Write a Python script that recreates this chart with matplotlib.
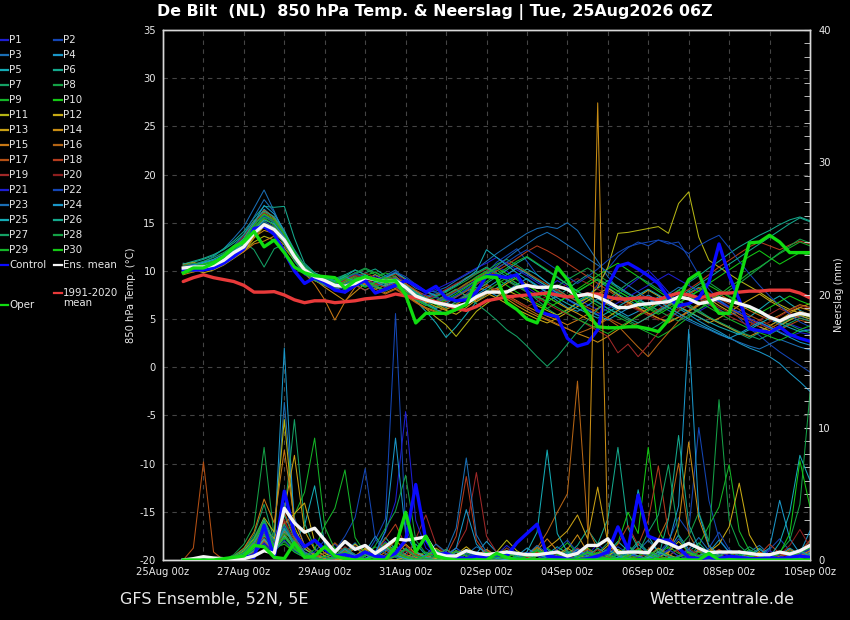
import numpy as np
import matplotlib
matplotlib.use("Agg")
import matplotlib.pyplot as plt
from matplotlib.lines import Line2D
from matplotlib.ticker import MultipleLocator

plt.rcParams['font.family'] = ['DejaVu Sans']
plt.rcParams['axes.unicode_minus'] = False

# ---------------- data ----------------
# time steps: 6-hourly from 25Aug 12z (day 0.5) to 10Sep 00z (day 16)
n_steps = 63
x_tick_labels = ["25Aug 00z", "27Aug 00z", "29Aug 00z", "31Aug 00z", "02Sep 00z",
                 "04Sep 00z", "06Sep 00z", "08Sep 00z", "10Sep 00z"]

member_names = ["P%d" % k for k in range(1, 31)]
member_colors = ["#1e1ed2", "#1446b4", "#1a6eb4", "#1a96c8", "#14aab4", "#14a88c",
                 "#14a064", "#14a046", "#14b428", "#14c814", "#b4b414", "#c8aa14",
                 "#c8a014", "#c88c14", "#c87814", "#b46414", "#b45014", "#b43c1e",
                 "#a02828", "#8c1e1e",
                 "#1e1ed2", "#1446b4", "#1a6eb4", "#1a96c8", "#14aab4", "#14a88c",
                 "#14a064", "#14a046", "#14b428", "#14c814"]

# 850 hPa temperature (°C) per member
t01 = [10.5,10.2,10.6,10.9,11.4,12.2,13.0,14.6,15.3,14.8,13.0,11.0,9.6,9.0,8.6,
       8.2,8.9,9.5,9.1,8.6,9.3,9.8,8.7,7.9,7.5,7.2,7.0,7.4,8.1,8.8,
       9.6,10.4,10.0,9.1,8.3,7.6,8.2,9.0,8.4,7.1,6.5,6.0,6.8,7.5,8.4,
       9.2,10.1,9.0,7.8,6.9,6.2,5.8,6.4,7.0,6.3,5.5,4.9,4.2,3.6,3.9,4.5,4.1,3.8]
t02 = [10.0,10.3,10.1,10.4,11.0,11.6,12.4,14.0,15.6,15.0,13.6,11.8,10.0,9.2,8.8,
       8.5,8.0,8.6,9.4,9.0,8.2,8.8,7.6,7.0,7.3,7.8,7.4,6.9,7.6,8.5,
       9.8,10.9,11.6,12.3,11.0,9.6,8.8,7.9,7.0,6.4,7.2,8.6,10.2,11.5,12.4,
       13.0,12.6,13.2,12.8,13.0,11.4,9.6,8.1,7.0,6.2,5.1,4.0,3.3,2.4,1.6,0.9,0.2,-0.5]
t03 = [10.8,10.6,10.9,11.5,12.3,13.4,14.6,16.5,18.4,16.2,13.8,11.4,9.8,9.1,8.9,
       8.6,9.2,9.8,9.4,8.9,9.5,10.1,9.0,8.2,7.8,7.9,8.3,9.0,9.6,10.2,
       11.0,11.8,12.5,13.2,13.9,14.4,14.6,14.4,15.0,14.2,12.6,11.0,9.4,8.2,7.6,
       7.0,6.5,6.9,7.6,8.3,7.9,7.2,6.6,6.0,5.4,5.8,6.3,5.7,5.0,4.4,4.9,5.3,5.0]
t04 = [10.2,10.5,10.3,10.7,11.2,12.0,13.1,14.9,16.4,15.5,13.9,11.6,9.9,9.3,8.7,
       8.4,9.0,8.6,8.0,8.5,9.1,8.4,7.5,6.9,6.5,6.1,6.6,7.3,7.9,8.3,
       8.0,7.4,7.9,8.6,9.2,8.5,7.7,6.9,6.2,5.8,6.4,7.1,6.5,5.9,5.3,
       5.8,6.6,7.3,6.8,6.1,5.5,4.8,4.2,3.7,3.1,2.5,2.0,1.6,1.1,0.4,-0.6,-1.5,-2.5]
t05 = [9.9,10.4,10.6,10.8,11.3,11.9,12.7,14.2,15.9,15.1,13.5,11.9,10.3,9.6,9.1,
       8.7,9.4,10.1,9.6,9.0,8.6,9.2,8.1,6.9,5.8,4.6,3.1,4.2,5.5,6.8,
       7.6,8.2,8.9,9.5,10.2,9.6,8.8,8.1,7.4,6.9,7.5,8.2,9.0,8.4,7.7,
       7.1,6.5,5.9,6.4,7.0,7.7,8.3,7.6,6.9,6.2,5.7,5.2,6.0,6.8,7.4,6.6,5.9,5.4]
t06 = [10.4,10.9,11.2,11.6,12.3,13.1,14.1,15.5,16.7,16.6,16.7,13.4,10.8,9.8,9.3,
       9.0,8.7,9.2,9.8,10.2,9.5,9.0,8.4,7.7,7.2,7.6,8.0,8.6,9.3,9.8,
       10.4,9.8,9.1,8.5,7.9,7.3,6.8,7.4,8.1,8.9,9.6,9.0,8.3,7.6,7.0,
       6.4,5.9,6.5,7.2,8.0,8.8,9.5,10.3,11.0,11.8,12.5,13.1,13.7,14.2,14.8,15.3,15.6,15.2]
t07 = [10.1,10.7,11.0,11.4,11.9,12.6,13.0,12.2,10.4,12.3,12.8,11.0,9.7,9.3,8.9,
       9.2,9.6,9.0,8.5,8.9,9.4,8.8,8.0,7.1,6.6,6.2,6.8,7.4,8.0,8.9,
       9.5,10.1,9.4,8.7,7.9,7.0,6.1,5.4,5.9,6.7,7.4,6.8,6.1,5.5,4.9,
       4.3,3.8,4.4,5.1,5.8,6.5,5.9,5.2,4.6,4.1,3.5,3.0,3.6,4.3,4.9,4.4,3.9,3.6]
t08 = [10.6,10.3,10.8,11.2,11.8,12.4,13.3,14.8,15.8,15.0,13.4,11.7,10.2,9.5,9.0,
       8.6,9.1,9.7,10.2,9.6,9.1,9.5,8.3,7.4,7.0,6.7,7.1,7.9,8.6,9.4,
       10.0,10.7,11.2,10.6,9.9,9.1,8.4,7.8,7.2,7.8,8.5,9.2,8.6,7.9,7.3,
       6.8,6.2,5.7,6.3,7.0,7.6,8.2,8.8,8.1,7.4,6.8,6.2,5.7,5.1,4.6,5.0,5.5,5.2]
t09 = [9.8,10.1,10.4,10.5,11.0,11.8,12.6,14.1,15.2,14.4,13.0,11.3,9.9,9.4,9.1,
       8.9,9.5,9.1,8.7,9.3,9.8,9.4,8.6,7.8,7.1,6.5,6.0,6.6,7.3,8.2,
       8.9,9.6,10.3,11.0,11.5,10.8,10.1,9.4,8.6,7.9,7.1,6.4,5.8,5.2,4.7,
       4.1,3.6,3.1,3.7,4.4,5.2,6.0,6.8,7.5,8.3,9.0,9.8,10.4,11.1,11.8,12.4,13.0,12.6]
t10 = [10.3,10.6,10.2,10.6,11.2,12.0,12.9,14.4,15.1,14.5,13.1,11.5,10.2,9.7,9.2,
       8.8,8.4,8.9,9.5,9.9,9.3,8.7,8.1,7.5,7.1,6.8,7.3,8.0,8.7,9.3,
       9.9,9.2,8.5,7.8,7.2,6.6,6.1,6.7,7.4,8.1,8.8,9.5,10.2,10.8,10.1,
       9.4,8.6,7.9,7.2,6.6,7.3,8.0,8.7,9.4,10.1,10.8,11.5,12.1,11.4,10.7,11.3,11.9,11.6]
t11 = [10.7,10.9,10.5,10.8,11.3,11.7,12.1,13.0,13.6,13.2,12.4,11.1,9.8,9.2,8.7,
       8.3,8.8,9.3,8.9,8.4,8.0,8.5,7.7,6.8,6.1,5.2,4.4,3.2,4.5,5.8,
       6.6,7.3,8.0,7.5,7.0,6.4,5.9,5.4,6.0,6.7,7.2,8.3,10.4,13.9,14.0,
       14.2,14.4,14.6,13.9,17.0,18.2,13.5,11.1,10.4,9.7,9.0,8.4,7.8,7.1,6.5,6.0,5.6,5.2]
t12 = [10.0,10.2,9.8,10.1,10.6,11.3,12.0,13.4,14.6,14.0,12.9,11.2,9.9,9.0,8.5,
       8.1,8.6,9.0,8.6,8.1,8.5,9.0,8.2,7.4,6.8,6.3,5.9,5.5,6.2,7.0,
       7.7,7.2,6.6,6.0,5.5,5.0,4.6,5.1,5.7,6.3,6.9,7.6,8.2,7.5,6.8,
       6.2,5.6,5.1,4.7,5.2,5.8,6.5,7.1,6.4,5.8,5.2,4.7,4.2,3.8,4.3,4.9,5.4,5.0]
t13 = [10.4,10.0,10.3,10.7,11.1,11.6,12.3,13.7,14.9,14.6,13.6,11.9,10.4,9.6,8.9,
       8.3,7.7,8.4,9.1,9.6,9.0,8.5,7.9,7.2,6.7,6.9,7.5,8.1,7.4,6.8,
       7.4,8.0,8.7,9.3,8.6,7.9,7.3,6.7,6.1,5.6,5.0,4.5,5.2,5.9,6.6,
       7.3,8.0,7.4,6.9,6.3,5.8,5.2,4.6,5.1,5.7,6.4,7.0,7.6,6.9,6.3,5.8,6.2,6.6]
t14 = [10.1,9.9,10.2,10.5,11.0,11.5,12.2,13.5,14.2,13.9,13.0,11.4,10.0,9.1,8.3,
       7.6,6.9,7.8,8.7,9.2,8.7,9.3,8.6,7.9,7.2,6.6,6.0,6.5,7.2,7.8,
       8.4,7.8,7.1,6.4,5.8,5.3,4.9,4.4,4.0,3.5,3.1,2.6,3.2,3.9,4.6,
       5.4,6.1,6.8,7.4,6.9,6.3,5.7,5.1,4.6,4.1,3.6,3.2,3.7,4.3,4.9,5.6,6.2,5.9]
t15 = [9.6,9.9,10.1,10.4,10.9,11.4,12.0,12.8,13.1,13.6,12.7,11.2,9.8,8.6,7.0,
       4.9,6.8,8.3,9.0,8.4,7.7,8.2,7.5,6.8,6.2,5.8,5.4,5.9,6.5,7.1,
       7.6,8.2,7.5,6.9,6.3,5.8,5.3,4.9,4.4,4.9,5.5,6.1,6.7,7.3,6.7,
       6.1,5.6,5.1,4.6,5.2,5.8,6.4,7.0,7.6,7.0,6.5,5.9,5.4,4.9,5.4,6.0,6.5,6.2]
t16 = [10.2,10.5,10.0,10.4,11.0,11.9,13.0,14.7,16.1,15.4,13.7,11.6,9.9,9.0,8.5,
       8.0,8.5,9.1,8.6,8.1,7.6,8.1,7.4,6.7,6.1,5.7,6.2,6.8,7.5,8.1,
       8.6,8.0,7.3,6.7,6.1,5.5,5.0,4.5,4.0,3.5,3.9,4.4,5.0,4.3,3.2,
       2.1,1.1,2.4,3.6,4.8,5.9,6.6,7.3,6.7,6.1,5.5,5.0,4.5,4.0,4.6,5.2,5.8,5.5]
t17 = [10.6,10.8,10.4,10.9,11.5,12.3,13.4,15.0,16.3,15.6,14.0,12.0,10.4,9.5,9.0,
       8.6,9.0,9.5,9.0,8.4,8.9,9.4,8.7,8.0,7.4,6.9,7.4,8.0,8.7,9.2,
       9.8,10.3,10.9,10.4,9.8,9.2,8.6,8.0,7.4,6.8,6.2,5.7,5.1,4.6,4.1,
       4.6,5.2,5.8,6.4,7.0,7.6,8.2,7.7,7.1,6.6,6.0,5.4,4.9,4.4,3.9,4.4,4.9,4.6]
t18 = [10.3,10.1,10.5,10.9,11.3,12.0,12.9,14.3,15.4,14.8,13.4,11.7,10.1,9.3,8.8,
       8.4,8.9,8.5,8.0,8.6,9.2,9.7,9.1,8.4,7.8,7.3,6.8,7.3,7.9,8.6,
       9.3,10.0,10.6,11.3,12.0,12.6,12.1,11.5,10.8,10.1,9.4,8.7,8.0,7.3,6.6,
       6.0,5.4,6.0,6.7,7.4,8.1,8.8,9.6,10.4,11.1,11.8,12.5,13.0,12.6,12.2,12.7,13.1,12.8]
t19 = [10.0,10.4,10.7,11.0,11.6,12.5,13.6,15.2,16.0,15.2,13.7,11.8,10.2,9.4,8.9,
       8.5,9.1,9.6,9.2,8.7,8.3,8.8,8.1,7.5,7.0,7.5,8.1,8.7,9.2,9.7,
       10.2,9.6,9.0,8.4,7.8,7.2,6.6,6.0,5.5,5.0,4.4,3.8,3.2,1.5,2.4,
       1.1,2.3,3.6,4.8,5.9,6.5,7.1,6.5,5.9,5.3,4.8,4.3,4.9,5.5,6.1,5.6,5.1,4.8]
t20 = [10.5,10.6,10.3,10.6,11.1,11.7,12.5,13.8,14.7,14.1,12.9,11.2,9.8,9.1,8.6,
       8.2,8.7,9.3,9.8,9.3,8.8,8.3,7.6,7.0,6.5,6.9,7.4,7.9,8.5,9.0,
       8.5,8.0,7.4,6.8,6.3,6.8,7.4,8.0,8.6,9.2,8.7,8.1,7.5,6.9,6.4,
       5.9,5.4,4.9,5.5,6.1,6.7,7.3,6.8,6.2,5.7,5.2,4.7,4.2,4.7,5.3,5.9,6.4,6.1]
t21 = [9.9,10.2,10.4,10.6,11.2,12.1,13.2,14.9,15.7,15.1,13.5,11.5,9.9,9.2,8.7,
       8.2,7.8,8.4,9.0,9.5,9.0,8.5,7.8,7.2,7.6,8.1,8.6,9.1,9.7,10.3,
       10.8,11.4,10.8,10.1,9.5,8.8,8.2,7.6,7.0,6.5,6.0,5.5,6.1,6.7,7.3,
       7.9,8.5,9.1,9.7,9.1,8.5,7.9,7.3,6.8,6.2,5.7,5.1,4.6,4.1,3.7,3.2,3.6,3.4]
t22 = [10.4,10.7,10.5,10.8,11.3,12.0,12.8,14.3,15.1,14.6,13.2,11.6,10.1,9.4,8.9,
       8.6,9.2,9.7,9.3,8.9,9.4,9.9,9.4,8.6,7.9,7.3,6.9,7.4,8.1,8.8,
       9.5,10.2,10.9,11.6,12.2,11.5,10.8,10.1,9.4,8.7,9.4,10.2,11.1,11.9,12.5,
       12.8,13.0,13.2,13.0,12.5,11.8,12.6,13.2,13.7,12.4,11.0,9.7,8.5,7.4,6.4,5.5,4.7,4.2]
t23 = [10.2,10.0,10.3,10.9,11.6,12.6,13.8,15.6,17.4,16.1,14.0,11.8,10.0,9.1,8.5,
       8.0,8.6,9.2,8.8,8.3,8.8,9.3,8.5,7.7,7.1,6.7,7.2,7.8,8.4,9.1,
       9.7,10.5,11.3,12.1,12.8,13.5,14.0,13.4,12.7,12.0,11.3,10.6,9.9,9.2,8.5,
       7.8,7.1,6.5,5.9,5.3,4.8,4.3,3.9,3.4,3.0,2.6,2.2,1.9,2.4,2.9,2.5,2.1,1.8]
t24 = [10.3,10.6,10.9,11.2,11.7,12.4,13.4,15.0,16.8,15.9,14.2,12.0,10.3,9.5,9.1,
       8.7,8.3,8.8,9.4,8.9,8.4,8.9,8.1,7.3,6.6,6.0,5.5,6.1,6.8,7.5,
       8.2,8.9,9.6,10.3,9.7,9.0,8.4,7.7,7.1,6.5,5.9,5.4,4.9,5.5,6.1,
       6.8,7.5,6.9,6.2,5.6,5.0,4.5,4.0,3.5,3.0,3.5,4.1,4.7,4.2,3.6,3.1,2.6,2.3]
t25 = [10.1,10.5,10.8,11.1,11.5,12.1,12.9,14.2,15.3,14.9,13.5,11.8,10.4,9.6,9.2,
       8.9,9.4,8.9,8.4,8.8,9.3,9.8,9.2,8.5,7.9,7.4,7.9,8.5,9.2,10.0,
       12.2,11.4,10.6,9.8,9.1,8.4,7.8,7.2,6.6,6.1,5.6,5.1,5.7,6.3,6.9,
       7.5,8.1,7.5,6.9,6.3,5.7,5.2,4.7,4.2,3.8,3.4,3.9,4.5,5.1,4.6,4.1,3.7,3.9]
t26 = [10.7,11.0,11.3,11.7,12.2,12.9,13.8,15.2,16.2,15.6,14.1,12.2,10.6,9.8,9.3,
       9.0,9.6,10.1,9.6,9.1,8.6,9.1,8.5,7.8,7.2,6.7,6.2,6.8,7.4,8.0,
       8.7,9.4,10.1,10.8,11.4,10.7,10.0,9.3,8.6,7.9,7.3,6.7,6.1,5.6,5.1,
       4.6,5.2,5.8,6.5,7.2,7.9,8.6,9.3,10.0,10.7,11.4,12.1,12.8,13.5,14.2,14.9,15.5,15.1]
t27 = [10.0,10.3,10.7,11.0,11.4,12.0,12.7,14.0,14.9,14.2,12.8,11.1,9.7,9.0,8.6,
       8.2,8.7,9.2,8.8,8.3,7.9,8.4,7.7,7.0,6.4,6.9,7.5,8.1,7.4,6.6,
       5.8,4.9,3.9,3.2,2.2,1.1,0.1,1.1,2.4,3.7,4.9,6.0,7.0,7.9,8.7,
       9.4,8.8,8.1,7.5,6.9,6.3,5.7,5.2,4.7,4.2,3.7,3.3,2.9,3.4,4.0,4.6,5.1,4.8]
t28 = [10.5,10.8,10.6,10.9,11.4,12.2,13.1,14.6,15.6,15.1,13.8,12.0,10.5,9.7,9.2,
       8.8,9.3,9.8,10.3,9.8,9.3,8.8,8.1,7.4,6.9,7.3,7.8,8.4,9.0,9.7,
       10.3,9.7,9.0,8.4,7.8,7.2,7.8,8.4,9.1,9.7,10.3,9.6,8.9,8.2,7.6,
       7.0,6.4,5.9,5.3,4.8,5.4,6.0,6.6,7.3,8.0,8.7,9.5,10.3,11.1,11.9,12.6,13.3,12.9]
t29 = [9.7,10.0,10.3,10.6,11.1,11.8,12.8,14.4,15.5,14.7,13.2,11.4,9.9,9.2,8.8,
       8.4,8.9,9.4,9.0,8.5,8.0,8.5,7.8,7.1,6.5,5.9,5.4,5.9,6.5,7.2,
       7.9,8.6,9.3,8.7,8.0,7.4,6.8,6.2,5.6,5.0,4.5,4.0,3.5,4.1,4.7,
       5.3,5.9,6.6,7.3,8.0,7.4,6.8,6.2,5.6,5.0,4.5,4.0,3.6,3.2,2.8,3.3,3.9,4.3]
t30 = [10.2,10.4,10.7,11.0,11.5,12.3,13.3,14.8,15.9,15.3,13.8,11.9,10.3,9.5,9.0,
       8.7,9.2,8.8,8.3,8.8,9.3,8.9,8.2,7.6,7.0,6.5,7.0,7.6,8.3,9.0,
       9.7,10.3,9.7,9.1,8.5,7.9,7.3,6.7,7.3,7.9,8.5,9.1,8.5,7.9,7.3,
       6.7,6.1,5.5,6.1,6.7,7.3,7.9,8.5,7.9,7.3,6.7,6.1,5.6,6.2,6.8,7.4,6.9,6.5]

control_temp = [10.1,10.1,10.1,10.3,10.8,11.5,12.3,14.4,14.6,13.8,12.0,10.0,8.7,9.3,8.8,
                8.0,7.8,8.5,9.0,7.7,8.1,8.5,9.0,8.5,7.8,8.4,7.2,6.9,7.0,7.8,
                9.5,9.5,9.3,9.6,8.0,5.9,5.5,5.25,3.0,2.2,2.5,3.9,8.5,10.5,10.8,
                10.2,9.5,8.7,7.2,6.4,6.6,7.2,8.8,12.8,9.5,7.0,4.0,3.8,3.6,4.2,3.4,3.0,2.7]
oper_temp = [9.8,10.3,10.3,10.8,11.5,12.5,13.0,14.1,12.5,13.2,11.9,10.4,9.8,9.5,9.4,
             9.3,8.2,9.0,9.4,9.1,8.9,9.0,7.5,4.6,5.6,5.6,5.6,6.0,6.5,9.0,
             9.4,9.3,6.7,6.0,5.0,4.6,7.0,10.4,9.1,7.0,5.6,4.2,4.1,4.1,4.2,
             4.2,4.0,3.7,4.9,7.0,9.1,9.8,7.0,5.6,5.6,9.0,12.9,13.0,13.7,13.0,11.9,11.9,11.9]
mean_temp = [10.3,10.4,10.4,10.6,11.1,11.9,12.5,13.9,14.8,14.3,13.2,11.5,10.1,9.4,9.0,
             8.5,8.4,8.7,9.3,9.1,8.9,9.0,8.3,7.4,7.0,6.7,6.5,6.3,6.6,7.3,
             7.8,7.8,7.8,8.3,8.5,8.3,8.3,8.4,8.1,7.4,7.6,7.3,6.8,6.2,6.2,
             6.5,6.6,6.7,6.8,7.3,7.1,6.6,6.8,7.2,6.9,6.6,6.3,5.8,5.2,4.8,5.3,5.6,5.4]
clim_temp = [8.9,9.3,9.6,9.3,9.1,8.9,8.5,7.8,7.8,7.85,7.5,7.0,6.7,6.9,6.9,
             6.7,6.8,6.9,7.1,7.2,7.3,7.6,7.4,7.2,7.0,6.8,6.5,6.1,5.9,6.3,
             6.9,7.1,7.3,7.4,7.5,7.6,7.7,7.5,7.3,7.4,7.6,7.6,7.3,7.1,7.1,
             7.2,7.2,7.0,7.4,7.7,7.5,7.2,7.4,7.7,7.7,7.8,7.9,7.9,8.0,8.0,8.0,7.7,7.2]

# precipitation (mm) per member
r01 = [0,0,0,0,0,0,0.2,0.5,1.2,0.4,2.5,1.1,0.6,0.3,0,
       0.2,0.8,0.3,0,0.5,1.4,0.6,0.2,0,0.3,0,0,0.2,0.6,0.3,
       0,0.4,1.1,0.5,0.2,0,0.3,0.6,0.2,0,0.4,1.2,0.5,0.3,0,
       0.2,0.6,0.3,0,0,0.4,0.8,0.3,0,0.2,0,0,0.3,0.5,0.2,0,0.3,0.8]
r02 = [0,0,0,0,0,0.1,0.3,0.6,1.4,0.5,1.8,0.9,0.4,0.2,0.5,
       1.2,0.4,0.1,0.3,1.5,3.1,18.6,2.4,0.6,0.2,0,0.4,0.9,0.3,0.1,
       0,0.2,0.6,0.3,0.1,0,0.2,0.4,0.7,0.2,0,0.3,0.9,0.4,0.6,
       0.3,0.1,0.5,1.4,3.2,2.1,10.0,4.5,1.6,0.6,0.2,0,0.3,0.8,1.6,0.7,0.3,0.5]
r03 = [0,0,0,0,0,0,0.4,1.0,2.3,1.5,11.9,3.2,1.1,0.5,0.2,
       0,0.6,1.3,0.4,0.2,0.8,0.3,0.1,0,0.2,0.5,0.2,0,0.4,1.0,
       0.6,0.2,0,0,0.3,0.1,0,0,0.5,0.9,0.3,0.1,0,0.4,0.2,
       0.7,1.5,0.6,0.2,0,0.3,0.8,0.4,0.1,0,0.2,0.6,1.1,0.4,0.2,0,0.3,0.6]
r04 = [0,0,0,0,0,0.2,0.6,1.3,3.0,1.2,16.0,2.2,0.8,0.4,0.2,
       0.5,0.2,0,0.6,1.8,0.7,1.1,0.4,0.2,0,0.3,0.8,0.4,0.1,0.5,
       1.4,0.6,0.2,0,0.1,0.4,0.8,0.3,0,0.2,0.5,0.3,0.1,0,0.4,
       1.2,0.5,0.2,0.7,1.9,0.8,0.3,0.6,1.5,0.6,0.2,0,0.4,0.9,4.5,1.6,0.5,2.2]
r05 = [0,0,0,0,0,0,0.1,0.4,1.6,0.7,2.1,1.4,2.6,5.6,1.2,
       0.4,0.1,0,0.3,0.7,0.2,0,0.5,1.2,0.4,0.1,0,0.3,0.7,0.2,
       0,0.2,0.5,0.2,0,0.1,0.4,1.0,0.5,0.2,0,0.3,0.6,1.4,0.7,
       5.3,1.8,0.6,0.2,0,0.3,0.7,0.3,0,0.2,0.5,0.2,0,0.1,0.4,0.9,0.4,0.2]
r06 = [0,0,0,0,0,0,0.2,0.8,2.0,1.1,3.4,1.6,0.5,0.2,0,
       0.3,0.9,0.4,0.1,0.6,1.7,0.8,0.3,0.1,0,0.2,0.5,0.2,0,0.3,
       0.8,0.3,0.1,0,0.2,0.6,0.3,0.1,0.4,1.1,2.3,1.2,3.1,8.5,2.4,
       0.9,0.3,0.1,0,0.2,0.6,1.3,0.5,0.2,0,0.1,0.4,0.9,0.3,0,0.2,0.5,1.0]
r07 = [0,0,0,0,0,0.3,0.8,1.9,4.2,1.5,3.3,10.6,2.8,0.9,0.3,
       0.1,0.5,1.2,0.6,0.2,0,0.3,0.9,0.4,0.1,0,0.2,0.7,0.3,0,
       0.1,0.4,0.9,0.4,0.1,0,0.3,0.6,0.2,0,0.2,0.5,1.3,0.6,0.2,
       0,0.3,0.8,0.4,0.1,0,0.2,0.5,0.2,0,0.4,1.0,0.5,0.2,0,0.3,0.7,1.4]
r08 = [0,0,0,0,0,0.4,1.2,2.6,8.5,1.7,2.4,1.0,0.4,0.1,0,
       0.2,0.6,0.3,0,0.4,1.1,0.5,0.2,0,0.3,0.8,0.3,0.1,0,0.2,
       0.5,0.2,0,0.1,0.4,0.9,0.4,0.1,0,0.2,0.6,0.3,0.1,0.4,1.0,
       0.5,0.2,0,0.3,0.9,1.8,3.6,1.4,12.1,3.0,1.1,0.4,0.1,0,0.3,0.7,0.3,0.5]
r09 = [0,0,0,0,0,0,0.3,0.9,2.2,0.8,1.6,3.4,5.1,9.2,2.5,
       0.8,0.3,0.1,0.4,1.0,0.5,0.2,0,0.3,0.6,0.2,0,0.2,0.5,0.2,
       0,0.3,0.7,0.3,0.1,0,0.2,0.6,1.3,0.5,0.2,0,0.3,0.8,0.3,
       0.1,0,0.4,1.0,0.5,0.2,1.1,2.6,4.0,7.2,2.2,0.7,0.2,0,0.3,0.6,0.3,0.2]
r10 = [0,0,0,0,0,0.1,0.5,1.5,2.9,0.9,1.2,0.6,0.2,0,0.3,
       0.9,0.4,0.1,0,0.5,1.3,0.6,0.2,0,0.3,0.7,0.3,0.1,0,0.2,
       0.6,0.3,0.1,0,0.4,0.8,0.3,0.1,0,0.3,0.9,0.4,0.2,1.3,3.6,
       2.0,8.5,2.3,0.8,0.3,0.1,0,0.3,0.7,0.3,0.1,0,0.2,0.5,0.2,0,0.4,0.9]
r11 = [0,0,0,0,0,0.2,0.7,1.6,3.2,2.1,10.6,2.5,0.9,0.3,0.1,
       0,0.4,1.2,0.5,0.2,0,0.3,0.8,0.3,0.1,0,0.2,0.6,0.3,0,
       0.2,0.6,1.5,0.7,0.3,0.1,0,0.4,0.9,0.4,0.1,0,0.3,0.8,0.4,
       0.2,0,0.2,0.6,1.4,0.6,0.2,0,0.3,0.7,0.3,0.1,0,0.2,0.6,0.3,0.1,0.3]
r12 = [0,0,0,0,0,0,0.3,0.8,1.8,1.2,2.7,3.5,4.3,1.4,0.5,
       0.2,0,0.3,0.9,0.4,0.1,0,0.2,0.6,0.3,0.1,0,0.4,1.0,0.4,
       0.1,0,0.2,0.5,0.2,0,0.3,0.7,0.3,0.1,0,0.4,1.1,0.5,0.2,
       0,0.3,0.8,0.4,0.1,0,0.2,0.6,1.2,2.5,5.8,1.9,0.6,0.2,0,0.3,0.7,0.3]
r13 = [0,0,0,0,0,0.2,0.6,1.3,2.5,1.6,3.8,7.9,2.2,0.8,0.3,
       0.1,0,0.3,0.8,0.3,0.1,0.4,1.2,0.5,0.2,0,0.3,0.7,0.3,0.1,
       0,0.2,0.6,0.2,0,0.3,0.9,1.5,2.2,3.4,1.6,5.5,1.3,0.5,0.2,
       0,0.2,0.6,0.3,0.1,0,0.3,0.8,0.3,0.1,0,0.2,0.5,0.2,0,0.3,0.6,0.2]
r14 = [0,0,0,0,0,0,0.2,0.7,1.5,0.6,1.9,0.8,0.3,0.1,0,
       0.3,0.8,0.3,0.1,0,0.2,0.6,0.2,0,0.3,0.9,0.4,0.1,0,0.2,
       0.5,0.2,0,0.1,0.4,1.0,0.4,0.2,0.8,1.9,0.6,34.5,1.2,0.4,0.1,
       0,0.3,0.9,0.5,2.6,8.9,3.1,1.0,0.3,0.1,0,0.2,0.6,0.3,0.1,0,0.3,0.7]
r15 = [0,0,0,0,0,0.3,0.9,2.1,4.6,2.8,8.3,3.0,1.1,0.4,0.1,
       0,0.3,0.9,0.4,0.1,0.6,1.5,0.7,0.2,0,0.2,0.5,0.2,0,0.3,
       0.8,0.3,0.1,0,0.2,0.7,1.6,0.7,0.2,0,0.3,0.8,0.3,0.1,0,
       0.2,0.6,0.3,0.1,0,0.3,0.7,0.3,0.1,0,0.2,0.5,0.2,0,0.3,0.8,0.4,0.2]
r16 = [0,0,0,0,0,0,0.2,0.6,1.4,0.5,2.2,1.3,0.5,0.2,0,
       0.2,0.7,0.3,0.1,0,0.4,1.0,0.4,0.1,0,0.3,0.8,0.3,0.1,0,
       0.2,0.5,0.2,0,0.3,0.9,2.1,3.6,5.0,13.5,2.4,0.8,0.3,0.1,0,
       0.3,0.8,1.6,3.2,7.3,2.0,0.6,0.2,0,0.3,0.7,0.3,0.1,0,0.2,0.5,0.2,0.4]
r17 = [0,0.9,7.4,0.6,0,0,0.4,1.1,2.3,1.0,3.6,1.7,0.6,0.2,0.5,
       1.3,0.6,0.2,0,0.3,0.9,0.4,0.1,0,0.2,0.6,0.3,0.1,0,0.3,
       0.7,0.3,0.1,0,0.2,0.6,0.3,0.1,0,0.3,0.8,0.4,0.2,0,0.3,
       0.9,0.4,0.2,0,0.3,0.7,0.3,0.1,0,0.2,0.6,0.3,0.1,0,0.2,0.6,0.3,0.5]
r18 = [0,0,0,0,0,0.1,0.4,0.9,2.0,0.8,2.9,1.5,0.5,0.2,0,
       0.3,1.0,0.4,0.1,0.5,1.6,2.7,1.1,0.4,0.1,0,0.3,1.8,6.3,1.5,
       0.4,0.1,0,0.2,0.6,0.3,0.1,0,0.3,0.8,0.3,0.1,0.4,1.2,2.6,
       1.1,3.0,7.1,2.0,0.6,0.2,0,0.3,0.8,0.3,0.1,0,0.4,1.2,0.5,0.2,0.6,1.5]
r19 = [0,0,0,0,0,0,0.3,0.8,1.7,0.6,2.0,0.9,0.3,0.1,0,
       0.2,0.6,0.2,0,0.4,1.2,0.5,0.2,1.6,3.4,1.2,0.4,0.9,2.3,6.6,
       1.8,0.6,0.2,0,0.2,0.5,0.2,0,0.3,0.9,0.4,0.1,0,0.2,0.7,
       0.3,0.1,0,0.3,0.8,0.4,0.1,0,0.2,0.6,0.3,0.1,0,0.2,0.5,0.2,0.1,0.3]
r20 = [0,0,0,0,0,0.2,0.5,1.2,2.4,1.3,3.1,1.2,0.4,0.1,0,
       0.1,0.4,1.1,0.5,0.2,0,0.3,0.7,0.3,0.1,0,0.2,0.6,0.3,0.1,
       0,0.3,0.9,0.4,0.1,0,0.2,0.5,0.2,0,0.3,0.8,0.4,0.1,0,
       0.2,0.5,0.2,0,0.3,0.9,0.4,0.1,0,0.2,0.6,0.3,0.1,0,0.4,1.1,2.3,1.0]
r21 = [0,0,0,0,0,0,0.2,0.5,1.3,0.6,1.5,0.7,0.3,0.1,0,
       0.3,0.9,0.4,0.1,0.6,2.1,4.4,11.2,3.0,0.9,0.3,0.1,0,0.2,0.6,
       0.3,0.1,0,0.2,0.6,0.3,0.1,0,0.3,0.7,0.3,0.1,0,0.2,0.5,
       0.2,0,0.3,0.8,0.3,0.1,0,0.2,0.6,0.3,0.1,0,0.2,0.7,0.3,0.1,0.4,0.9]
r22 = [0,0,0,0,0,0.1,0.4,1.0,2.1,0.9,2.6,1.2,0.4,0.6,1.5,
       0.7,1.8,3.2,6.9,1.6,0.5,0.2,0.8,0.3,0.1,0,0.3,0.9,0.4,0.1,
       0,0.2,0.6,0.3,0.1,0,0.3,0.8,1.5,0.6,0.2,0,0.4,1.0,0.5,
       0.2,0,0.3,0.7,1.6,0.7,0.3,0.9,2.1,0.8,0.3,0.1,0,0.2,0.6,0.3,0.1,0.4]
r23 = [0,0,0,0,0,0.2,0.6,1.4,2.8,1.1,4.3,1.8,0.6,0.2,0,
       0.2,0.5,0.2,0,0.3,0.8,0.3,0.1,0,0.4,1.2,0.6,2.4,7.7,1.9,
       0.6,0.2,0,0.1,0.4,1.1,0.5,0.2,0,0.3,0.7,0.3,0.1,0,0.2,
       0.6,0.3,0.1,0,0.3,0.8,1.7,0.7,0.2,0,0.3,0.7,0.3,0.1,0,0.2,0.6,0.3]
r24 = [0,0,0,0,0,0.1,0.3,0.9,1.9,0.8,2.3,1.4,0.5,0.2,0,
       0.3,0.8,0.3,0.1,0.5,2.2,9.2,2.0,0.6,0.2,0,0.3,0.9,3.8,1.2,
       0.4,0.1,0,0.3,0.9,0.4,0.2,0,0.3,0.8,0.3,0.1,0,0.2,0.6,
       0.3,0.1,0.4,1.2,4.1,17.4,3.5,1.1,0.4,0.1,0,0.3,0.8,0.3,0.1,0,0.2,0.5]
r25 = [0,0,0,0,0,0,0.2,0.7,1.6,0.7,1.8,0.8,0.3,0.1,0,
       0.2,0.6,0.2,0,0.4,1.0,0.4,0.1,0,0.3,0.7,0.3,0.1,0,0.2,
       0.5,0.2,0,0.2,0.6,2.1,8.3,2.0,0.6,0.2,0,0.3,0.8,0.3,0.1,
       0,0.2,0.6,0.3,0.1,0,0.3,0.7,0.3,0.1,0,0.2,0.5,0.2,1.3,3.6,7.9,6.0]
r26 = [0,0,0,0,0,0.2,0.5,1.2,2.6,1.0,2.4,1.1,0.4,0.1,0,
       0.1,0.4,1.0,0.4,0.1,0,0.3,0.8,0.3,0.1,0,0.2,0.6,0.3,0.1,
       0,0.3,0.7,0.3,0.1,0,0.2,0.6,0.2,0,0.3,0.9,0.4,0.1,0.5,
       1.4,0.6,0.2,3.1,9.4,2.7,0.9,0.3,0.1,0,0.2,0.6,0.3,0.1,0,0.3,0.7,0.3]
r27 = [0,0,0,0,0,0.3,0.8,1.7,3.1,1.4,2.7,1.3,0.5,0.2,0,
       0.3,0.9,0.4,0.1,0,0.2,0.7,0.3,0.1,0,0.3,0.8,0.3,0.1,0,
       0.2,0.6,0.2,0,0.3,0.8,0.3,0.1,0,0.2,0.5,0.2,0,0.4,1.1,
       0.5,2.1,3.4,7.2,1.8,0.5,0.2,0,0.3,0.7,0.3,0.1,0,0.2,0.6,0.3,0.1,0.4]
r28 = [0,0,0,0,0,0,0.3,0.8,1.9,0.7,1.4,0.6,0.2,0,0.2,
       0.6,0.2,0,0.3,1.1,2.4,3.7,6.4,1.5,0.5,0.2,0,0.3,0.8,0.3,
       0.1,0,0.2,0.6,0.3,0.1,0,0.3,0.7,0.3,0.1,0,0.2,0.5,0.2,
       0,0.3,0.8,0.3,0.1,0,0.2,0.6,0.3,0.1,0,0.2,0.5,0.2,0.6,1.5,4.2,12.6]
r29 = [0,0,0,0,0,0.2,0.6,1.5,2.7,1.0,2.0,0.9,0.3,0.8,2.6,
       3.9,6.8,1.7,0.5,0.2,0,0.3,0.8,0.3,0.1,0,0.2,0.7,0.3,0.1,
       0,0.2,0.5,0.2,0,0.3,0.9,0.4,0.1,0,0.2,0.6,0.3,0.1,0,
       0.3,0.7,0.3,0.1,0,0.2,0.6,0.3,0.1,0,0.3,0.8,0.3,0.1,0,0.2,0.6,0.9]
r30 = [0,0,0,0,0,0.1,0.4,1.0,2.2,0.9,1.7,0.8,0.3,0.1,0,
       0.2,0.6,0.2,0,0.4,1.1,0.5,0.2,0,0.3,0.8,0.3,0.1,0,0.2,
       0.6,0.3,0.1,0,0.3,0.7,0.3,0.1,0,0.2,0.6,0.3,0.1,0,0.3,
       0.8,0.4,0.1,0,0.2,0.6,0.3,0.1,0,0.3,0.7,0.3,0.1,0,0.5,2.0,7.5,4.0]

control_precip = [0,0,0,0,0,0,0.3,0.2,2.6,0.2,5.2,2.0,1.0,1.5,0.8,
                  0.3,0.4,0.2,0.6,0.3,0.2,0.5,1.5,5.7,1.5,0.4,0.5,0.2,0.1,0.3,
                  0.2,0.4,0.3,1.3,2.0,2.7,0.3,0.2,0.1,0,0.1,0.3,0.6,2.5,0.8,
                  4.9,1.8,1.5,1.5,0.9,0.2,0.1,0.2,0.1,0.3,0.2,0.1,0.1,0.2,0.1,0.2,0.3,0.2]
oper_precip = [0,0,0,0,0.1,0.2,0.3,1.1,1.0,0.2,0.1,1.3,0.2,0.3,1.0,
               0.3,0.1,0,0,0,0,1.0,3.6,0.6,1.8,0.3,0.1,0,0,0,
               0,0.5,0.2,0,0,0,0,0,0,0,0,0,0,0,0,
               0,0,0,0,0,0,0,0.5,0,0,0,0,0,0,0,0,0,0]
mean_precip = [0,0.1,0.25,0.15,0.1,0.1,0.1,0.3,0.7,0.5,3.9,2.8,2.1,2.4,1.5,
               0.6,1.4,0.8,1.1,0.5,1.0,1.6,1.5,1.6,1.75,0.5,0.3,0.3,0.7,0.5,
               0.4,0.5,0.6,0.5,0.4,0.4,0.5,0.6,0.3,0.5,1.1,1.1,1.6,0.55,0.6,
               0.6,0.55,1.5,1.25,0.9,1.25,0.9,0.55,0.6,0.6,0.6,0.5,0.4,0.4,0.6,0.45,0.7,1.1]

member_temp = [t01, t02, t03, t04, t05, t06, t07, t08, t09, t10, t11, t12, t13, t14, t15,
               t16, t17, t18, t19, t20, t21, t22, t23, t24, t25, t26, t27, t28, t29, t30]
member_precip = [r01, r02, r03, r04, r05, r06, r07, r08, r09, r10, r11, r12, r13, r14, r15,
                 r16, r17, r18, r19, r20, r21, r22, r23, r24, r25, r26, r27, r28, r29, r30]

# ---------------- figure ----------------
W, H = 850, 620
fig = plt.figure(figsize=(W / 100, H / 100), dpi=100, facecolor='black')
ax = fig.add_axes([163 / W, 60 / H, 647 / W, 530 / H])
ax.set_facecolor('black')
ax2 = ax.twinx()

days = 0.5 + 0.25 * np.arange(n_steps)
TXT = '#e8e8e8'
SP = '#d8d8d8'


def xs(arr):
    return days[:len(arr)]


for k in range(30):
    ax.plot(xs(member_temp[k]), member_temp[k], color=member_colors[k], lw=0.75, zorder=2)
ax.plot(xs(clim_temp), clim_temp, color='#e83a3a', lw=2.4, zorder=3, solid_capstyle='round')
ax.plot(xs(control_temp), control_temp, color='#0a0aff', lw=2.4, zorder=4)
ax.plot(xs(mean_temp), mean_temp, color='#f4f4f4', lw=2.4, zorder=5)
ax.plot(xs(oper_temp), oper_temp, color='#10dc10', lw=2.4, zorder=6)

for k in range(30):
    ax2.plot(xs(member_precip[k]), member_precip[k], color=member_colors[k], lw=0.75, zorder=2)
ax2.plot(xs(control_precip), control_precip, color='#0a0aff', lw=2.4, zorder=4)
ax2.plot(xs(mean_precip), mean_precip, color='#f4f4f4', lw=2.4, zorder=5)
ax2.plot(xs(oper_precip), oper_precip, color='#10dc10', lw=2.4, zorder=6)

ax.set_xlim(0, 16)
ax.set_ylim(-20, 35)
ax2.set_ylim(0, 40)

ax.set_xticks(np.arange(0, 17, 2))
ax.set_xticklabels(x_tick_labels)
ax.xaxis.set_minor_locator(MultipleLocator(1))
ax.set_yticks(np.arange(-20, 36, 5))
ax.set_axisbelow(True)
ax.grid(which='both', axis='x', color='#444444', ls=(0, (4, 4)), lw=0.8)
ax.grid(which='major', axis='y', color='#444444', ls=(0, (4, 4)), lw=0.8)
ax.tick_params(axis='both', which='both', length=0, labelcolor=TXT, labelsize=7.2, pad=5)

ax2.set_yticks([0, 10, 20, 30, 40])
ax2.yaxis.set_minor_locator(MultipleLocator(1))
ax2.tick_params(axis='y', which='both', direction='in', length=4, color=SP,
                labelcolor=TXT, labelsize=7.2, pad=6)

for a in (ax, ax2):
    for s in a.spines.values():
        s.set_color(SP)
        s.set_linewidth(1.0)

ax.set_xlabel('Date (UTC)', color=TXT, fontsize=7.2, labelpad=6)
ax.set_ylabel('850 hPa Temp. (°C)', color=TXT, fontsize=7.2, labelpad=3)
ax2.set_ylabel('Neerslag (mm)', color=TXT, fontsize=7.2, labelpad=2)

fig.text(435 / W, 1 - 12 / H, 'De Bilt  (NL)  850 hPa Temp. & Neerslag | Tue, 25Aug2026 06Z',
         color='white', fontsize=11.4, fontweight='bold', ha='center', va='center')
fig.text(120 / W, 1 - 599 / H, 'GFS Ensemble, 52N, 5E', color=TXT, fontsize=11.5,
         ha='left', va='center')
fig.text(794 / W, 1 - 599 / H, 'Wetterzentrale.de', color=TXT, fontsize=11.5,
         ha='right', va='center')

# legend (manual, left margin)
def leg_item(xl, y, color, label):
    fig.add_artist(Line2D([xl / W, (xl + 8) / W], [1 - y / H, 1 - y / H],
                          transform=fig.transFigure, color=color, lw=1.6))
    fig.text((xl + 9) / W, 1 - y / H, label, color=TXT, fontsize=7.4,
             ha='left', va='center', linespacing=0.95)

for k in range(30):
    col = k % 2
    row = k // 2
    xl = 0 if col == 0 else 54
    leg_item(xl, 40 + 15 * row, member_colors[k], member_names[k])
leg_item(0, 265, '#0a0aff', 'Control')
leg_item(54, 265, '#f4f4f4', 'Ens. mean')
leg_item(0, 305, '#10dc10', 'Oper')
fig.add_artist(Line2D([54 / W, 62 / W], [1 - 293 / H, 1 - 293 / H],
                      transform=fig.transFigure, color='#e83a3a', lw=1.6))
fig.text(63 / W, 1 - 298 / H, '1991-2020\nmean', color=TXT, fontsize=7.4,
         ha='left', va='center', linespacing=0.95)

fig.savefig('out.png', dpi=100, facecolor='black')
